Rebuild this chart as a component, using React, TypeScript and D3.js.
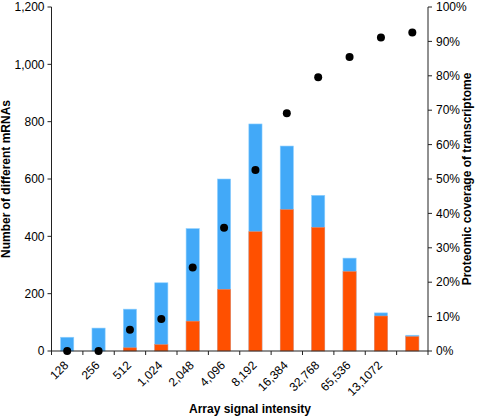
import React from "react";
import * as d3 from "d3";

const categories = ["128", "256", "512", "1,024", "2,048", "4,096", "8,192", "16,384", "32,768", "65,536", "13,1072", ""];
const totalMRNAs = [48, 80, 146, 238, 427, 600, 792, 715, 543, 324, 133, 55];
const detectedMRNAs = [0, 0, 11, 22, 104, 215, 416, 493, 431, 277, 122, 50];
const coveragePct = [0, 0, 6.2, 9.3, 24.3, 35.8, 52.6, 69.1, 79.6, 85.5, 91.1, 92.6];
const leftTicks = [0, 200, 400, 600, 800, 1000, 1200];
const rightTicks = [0, 10, 20, 30, 40, 50, 60, 70, 80, 90, 100];

const W = 486;
const H = 416;
const X0 = 51.5;
const X1 = 428;
const Y0 = 351;
const Y1 = 7;
const FONT = "'Liberation Sans', Arial, Helvetica, sans-serif";
const BLUE = "#42A9F8";
const ORANGE = "#FF5000";
const AXIS = "#222";

export default function App() {
  const x = d3.scaleBand<string>().domain(categories.map((c, i) => String(i))).range([X0, X1]).paddingInner(0.58).paddingOuter(0.29);
  const yL = d3.scaleLinear().domain([0, 1200]).range([Y0, Y1]);
  const yR = d3.scaleLinear().domain([0, 100]).range([Y0, Y1]);
  const step = (X1 - X0) / categories.length;
  const fmt = d3.format(",");
  const bw = x.bandwidth();

  return (
    <svg width={W} height={H} style={{ position: "absolute", left: 0, top: 0, background: "#fff" }} fontFamily={FONT}>
      {/* bars */}
      {totalMRNAs.map((v, i) => (
        <rect key={"b" + i} x={x(String(i))} y={yL(v)} width={bw} height={Y0 - yL(v)} fill={BLUE} stroke="#8fd0ff" strokeWidth={0.6} />
      ))}
      {detectedMRNAs.map((v, i) =>
        v > 0 ? (
          <rect key={"o" + i} x={x(String(i))} y={yL(v)} width={bw} height={Y0 - yL(v)} fill={ORANGE} stroke="#ff8a5a" strokeWidth={0.5} />
        ) : null
      )}
      {/* left axis */}
      <line x1={X0} x2={X0} y1={Y1} y2={Y0} stroke={AXIS} strokeWidth={1} />
      {leftTicks.map((t) => (
        <g key={"l" + t} transform={`translate(0,${yL(t)})`}>
          <line x1={X0 - 4} x2={X0} stroke={AXIS} />
          <text x={X0 - 7} dy="0.35em" textAnchor="end" fontSize={12} fill="#000">{fmt(t)}</text>
        </g>
      ))}
      {/* right axis */}
      <line x1={X1} x2={X1} y1={Y1} y2={Y0} stroke={AXIS} strokeWidth={1} />
      {rightTicks.map((t) => (
        <g key={"r" + t} transform={`translate(0,${yR(t)})`}>
          <line x1={X1} x2={X1 + 4} stroke={AXIS} />
          <text x={X1 + 8} dy="0.35em" textAnchor="start" fontSize={12} fill="#000">{t + "%"}</text>
        </g>
      ))}
      {/* bottom axis */}
      <line x1={X0} x2={X1} y1={Y0} y2={Y0} stroke={AXIS} strokeWidth={1} />
      {d3.range(categories.length + 1).map((i) => (
        <line key={"t" + i} x1={X0 + i * step} x2={X0 + i * step} y1={Y0} y2={Y0 + 4} stroke={AXIS} />
      ))}
      {categories.map((c, i) => {
        const cx = (x(String(i)) as number) + bw / 2;
        return (
          <text key={"c" + i} transform={`translate(${cx + 2},${366}) rotate(-45)`} textAnchor="end" fontSize={12} fill="#000">
            {c}
          </text>
        );
      })}
      {/* dots */}
      {coveragePct.map((v, i) => (
        <circle key={"d" + i} cx={(x(String(i)) as number) + bw / 2} cy={yR(v)} r={4} fill="#000" />
      ))}
      {/* titles */}
      <text transform={`translate(10,${(Y0 + Y1) / 2}) rotate(-90)`} textAnchor="middle" fontSize={12} fontWeight="bold" fill="#000">
        Number of different mRNAs
      </text>
      <text transform={`translate(471,${(Y0 + Y1) / 2}) rotate(-90)`} textAnchor="middle" fontSize={12} fontWeight="bold" fill="#000">
        Proteomic coverage of transcriptome
      </text>
      <text x={250} y={413} textAnchor="middle" fontSize={12} fontWeight="bold" fill="#000">
        Array signal intensity
      </text>
    </svg>
  );
}
